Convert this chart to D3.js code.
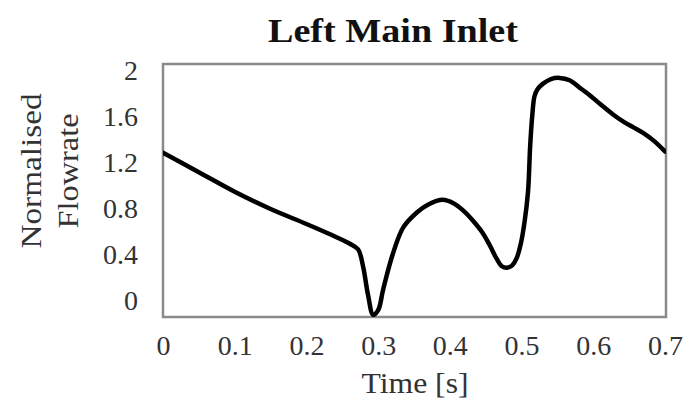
<!DOCTYPE html>
<html><head><meta charset="utf-8">
<script src="https://cdn.jsdelivr.net/npm/d3@7"></script>
<style>body{margin:0;background:#fff}svg{display:block}</style>
</head><body>
<script>
const timeValues = [0, 0.05, 0.1, 0.15, 0.2, 0.233, 0.26, 0.272, 0.279, 0.286, 0.293, 0.3, 0.307, 0.32, 0.335, 0.354, 0.37, 0.39, 0.405, 0.418, 0.432, 0.446, 0.456, 0.465, 0.473, 0.48, 0.487, 0.493, 0.499, 0.504, 0.509, 0.512, 0.515, 0.518, 0.522, 0.53, 0.541, 0.553, 0.567, 0.58, 0.595, 0.61, 0.628, 0.642, 0.656, 0.67, 0.685, 0.7];
const flowValues = [1.29, 1.12, 0.95, 0.80, 0.67, 0.58, 0.50, 0.45, 0.30, 0.05, -0.12, -0.08, 0.10, 0.40, 0.64, 0.77, 0.84, 0.88, 0.85, 0.79, 0.70, 0.59, 0.48, 0.37, 0.30, 0.29, 0.31, 0.37, 0.50, 0.68, 0.95, 1.35, 1.62, 1.78, 1.84, 1.89, 1.93, 1.94, 1.92, 1.86, 1.79, 1.71, 1.62, 1.56, 1.51, 1.46, 1.39, 1.30];
const xTicks = [0, 0.1, 0.2, 0.3, 0.4, 0.5, 0.6, 0.7];
const yTicks = [0, 0.4, 0.8, 1.2, 1.6, 2];
const titleText = "Left Main Inlet";
const xLabel = "Time [s]";
const yLabelLines = ["Normalised", "Flowrate"];

const W = 692, H = 409;
const mLeft = 163, mRight = 666, mTop = 64, mBottom = 317;
const font = "'Liberation Serif', 'DejaVu Serif', serif";

const svg = d3.select("body").append("svg").attr("width", W).attr("height", H);

const x = d3.scaleLinear().domain([0, 0.7]).range([mLeft, 665]);
const y = d3.scaleLinear().domain([0, 2]).range([301, 71]);

svg.append("rect").attr("x", mLeft).attr("y", mTop).attr("width", mRight - mLeft).attr("height", mBottom - mTop)
  .attr("fill", "#fff").attr("stroke", "#8a8a8a").attr("stroke-width", 2.5);

const xAxis = d3.axisBottom(x).tickValues(xTicks).tickSize(0).tickPadding(0)
  .tickFormat(d => d === 0 ? "0" : d3.format(".1f")(d));
const gx = svg.append("g").attr("transform", "translate(0,335)").call(xAxis);
gx.select(".domain").remove();
gx.selectAll("text").attr("font-family", font).attr("font-size", 28).attr("fill", "#333");

const yAxis = d3.axisLeft(y).tickValues(yTicks).tickSize(0).tickPadding(0)
  .tickFormat(d => d === 0 || d === 2 ? String(d) : d3.format(".1f")(d));
const gy = svg.append("g").attr("transform", "translate(138,0)").call(yAxis);
gy.select(".domain").remove();
gy.selectAll("text").attr("font-family", font).attr("font-size", 28).attr("fill", "#333");

svg.append("clipPath").attr("id", "plotclip").append("rect")
  .attr("x", mLeft).attr("y", mTop - 2).attr("width", mRight - mLeft).attr("height", mBottom - mTop + 2);
const pts = timeValues.map((t, i) => [t, flowValues[i]]);
svg.append("path").datum(pts)
  .attr("clip-path", "url(#plotclip)")
  .attr("fill", "none").attr("stroke", "#000").attr("stroke-width", 4.5)
  .attr("stroke-linejoin", "round").attr("stroke-linecap", "round")
  .attr("d", d3.line().x(d => x(d[0])).y(d => y(d[1])).curve(d3.curveCatmullRom.alpha(0.5)));

svg.append("text").attr("x", 393).attr("y", 42).attr("text-anchor", "middle")
  .attr("font-family", font).attr("font-weight", "bold").attr("font-size", 34).attr("fill", "#111")
  .attr("textLength", 250).attr("lengthAdjust", "spacingAndGlyphs").text(titleText);

svg.append("text").attr("x", 415).attr("y", 393).attr("text-anchor", "middle")
  .attr("font-family", font).attr("font-size", 30).attr("fill", "#333")
  .attr("textLength", 107).attr("lengthAdjust", "spacingAndGlyphs").text(xLabel);

const yl = svg.append("g").attr("transform", "translate(0,171) rotate(-90)");
yl.append("text").attr("x", 0).attr("y", 41).attr("text-anchor", "middle")
  .attr("font-family", font).attr("font-size", 30).attr("fill", "#333")
  .attr("textLength", 155).attr("lengthAdjust", "spacingAndGlyphs").text(yLabelLines[0]);
yl.append("text").attr("x", 0).attr("y", 78).attr("text-anchor", "middle")
  .attr("font-family", font).attr("font-size", 30).attr("fill", "#333")
  .attr("textLength", 115).attr("lengthAdjust", "spacingAndGlyphs").text(yLabelLines[1]);
</script>
</body></html>
